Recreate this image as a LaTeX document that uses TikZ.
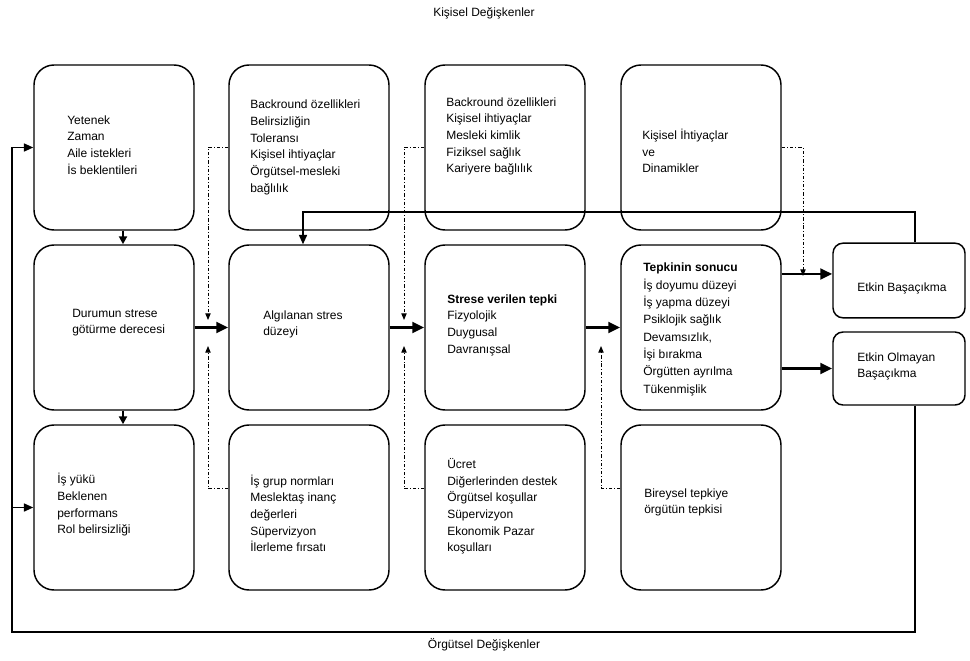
\documentclass[tikz,border=0pt]{standalone}
\usepackage{fontspec}
\setmainfont{Liberation Sans}
\usetikzlibrary{arrows.meta}

\begin{document}
\begin{tikzpicture}[x=0.75pt,y=0.75pt,yscale=-1,
  kutu/.style={draw,line width=1.1pt,rounded corners=15pt,minimum width=120pt,minimum height=123.75pt,inner sep=0pt},
  sonkutu/.style={draw,line width=1.1pt,rounded corners=7.5pt,minimum width=99pt,minimum height=56pt,inner sep=0pt},
  yazi/.style={anchor=west,align=left,inner sep=0pt,font=\fontsize{9}{12.5}\selectfont},
  kalin/.style={line width=2.2pt,-{Triangle[length=9pt,width=8pt]}},
  orta/.style={line width=1.6pt,-{Triangle[length=6pt,width=6pt]}},
  dongu/.style={line width=1.2pt,-{Triangle[length=7pt,width=6pt]}},
  noktali/.style={line width=0.7pt,dash pattern=on 2.5pt off 1.5pt on 0.7pt off 1.5pt,-{Triangle[length=5pt,width=4pt]}}
]
\useasboundingbox (0,0) rectangle (970,660);

% Rounded Rect -- first row
\node[kutu] (A1) at (114,147.5) {};
\node[kutu] (B1) at (309,147.5) {};
\node[kutu] (C1) at (505,147.5) {};
\node[kutu] (D1) at (701,147.5) {};
% Rounded Rect -- second row
\node[kutu] (A2) at (114,327.5) {};
\node[kutu] (B2) at (309,327.5) {};
\node[kutu] (C2) at (505,327.5) {};
\node[kutu] (D2) at (701,327.5) {};
% Rounded Rect -- third row
\node[kutu] (A3) at (114,507.5) {};
\node[kutu] (B3) at (309,507.5) {};
\node[kutu] (C3) at (505,507.5) {};
\node[kutu] (D3) at (701,507.5) {};
% Rounded Rect -- outcomes
\node[sonkutu] (E1) at (899,280.5) {};
\node[sonkutu,minimum height=54.75pt] (E2) at (899,368.5) {};

% Text Node
\node[yazi,anchor=center] (ust) at (484,13) {Kişisel Değişkenler};
\node[yazi,anchor=center] (alt) at (484,645) {Örgütsel Değişkenler};
% Text Node
\node[yazi] (tA1) at (67,145) {Yetenek\\Zaman\\Aile istekleri\\İs beklentileri};
\node[yazi] (tB1) at (250,147.5) {Backround özellikleri\\Belirsizliğin\\Toleransı\\Kişisel ihtiyaçlar\\Örgütsel-mesleki\\bağlılık};
\node[yazi] (tC1) at (446,136.5) {Backround özellikleri\\Kişisel ihtiyaçlar\\Mesleki kimlik\\Fiziksel sağlık\\Kariyere bağlılık};
\node[yazi] (tD1) at (642,151) {Kişisel İhtiyaçlar\\ve\\Dinamikler};
% Text Node
\node[yazi] (tA2) at (72,322.5) {Durumun strese\\götürme derecesi};
\node[yazi] (tB2) at (263,324.5) {Algılanan stres\\düzeyi};
\node[yazi] (tC2) at (447,325) {\textbf{Strese verilen tepki}\\Fizyolojik\\Duygusal\\Davranışsal};
\node[yazi,font=\fontsize{9}{13}\selectfont] (tD2) at (643,329.5) {\textbf{Tepkinin sonucu}\\İş doyumu düzeyi\\İş yapma düzeyi\\Psiklojik sağlık\\Devamsızlık,\\İşi bırakma\\Örgütten ayrılma\\Tükenmişlik};
\node[yazi] (tE1) at (857,288) {Etkin Başaçıkma};
\node[yazi] (tE2) at (857,366.5) {Etkin Olmayan\\Başaçıkma};
% Text Node
\node[yazi] (tA3) at (57,505) {İş yükü\\Beklenen\\performans\\Rol belirsizliği};
\node[yazi] (tB3) at (250,513.5) {İş grup normları\\Meslektaş inanç\\değerleri\\Süpervizyon\\İlerleme fırsatı};
\node[yazi] (tC3) at (447,506.5) {Ücret\\Diğerlerinden destek\\Örgütsel koşullar\\Süpervizyon\\Ekonomik Pazar\\koşulları};
\node[yazi] (tD3) at (644,502.5) {Bireysel tepkiye\\örgütün tepkisi};

% Straight Lines -- main flow
\draw[kalin] (A2) -- (B2);
\draw[kalin] (B2) -- (C2);
\draw[kalin] (C2) -- (D2);
\draw[kalin] ([yshift=-4.9pt]D2.east |- E1.west) -- ([yshift=-4.9pt]E1.west);
\draw[kalin] (D2.east |- E2.west) -- (E2.west);
\draw[orta] (A1.south -| 123,0) -- (A2.north -| 123,0);
\draw[orta] (A2.south -| 123,0) -- (A3.north -| 123,0);

% Feedback loops
\draw[dongu] (E1.north -| 915,0) |- (303,212) -- (B2.north -| 303,0);
\draw[dongu] (E2.south -| 915,0) |- (12,632) |- (A1.west);
\draw[dongu] (A3.west -| 12,0) -- (A3.west);

% Dash-dot moderators
\draw[noktali] (B1.west) -| (208,320);
\draw[noktali] ([yshift=-14.6pt]B3.west) -| (208,346);
\draw[noktali] (C1.west) -| (404,320);
\draw[noktali] ([yshift=-14.6pt]C3.west) -| (404,346);
\draw[noktali] ([yshift=-14.6pt]D3.west) -| (601,346);
\draw[noktali] (D1.east) -| (803,276);

\end{tikzpicture}
\end{document}
